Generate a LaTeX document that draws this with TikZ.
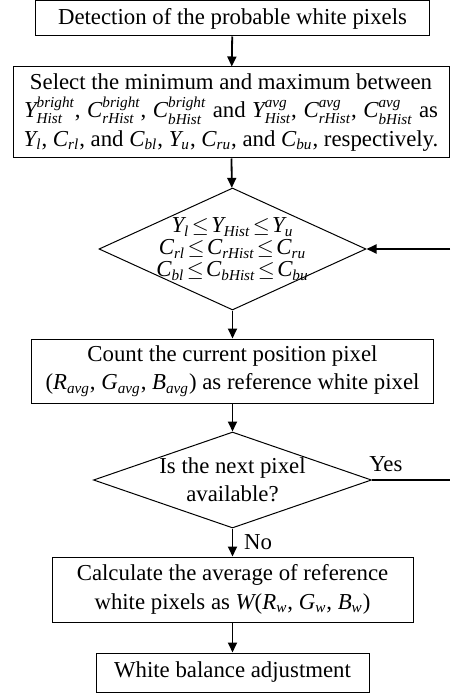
\documentclass[tikz,border=0pt]{standalone}
\usepackage{mathspec}
\setmainfont{Liberation Serif}
\setmathsfont(Digits,Latin)[Uppercase=Italic,Lowercase=Italic]{Liberation Serif}
\usetikzlibrary{shapes.geometric,arrows.meta}
\DeclareMathSizes{11.4}{11.4}{7.6}{6}
\def\boxfont{\fontsize{11.4pt}{14.2pt}\selectfont}
\def\condfont{\fontsize{11.4pt}{11pt}\selectfont\thickmuskip=2mu\relax}

\begin{document}
\begin{tikzpicture}[x=0.5pt,y=-0.5pt,line width=0.5pt,>={Triangle[length=5pt,width=4.5pt]}]
    \tikzstyle{every node}=[font=\boxfont]
    \tikzstyle{process}=[draw,rectangle,inner sep=1pt,align=center]
    \tikzstyle{decision}=[draw,diamond,inner sep=0pt]
    \tikzstyle{flow}=[->,line width=0.9pt]

    \useasboundingbox (0,0) rectangle (450,695);

    % Draw the process boxes and the decisions
    \node[process, minimum width=197pt, minimum height=17.5pt] (detect) at (232.5,18.5)
        {Detection of the probable white pixels};
    \node[process, minimum width=218pt, minimum height=45.5pt] (select) at (231,112.5)
        {Select the minimum and maximum between\\
         \makebox[207pt][s]{$Y^{bright}_{Hist}$, $C^{bright}_{rHist}$, $C^{bright}_{bHist}$ and $Y^{avg}_{Hist}$, $C^{avg}_{rHist}$, $C^{avg}_{bHist}$ as}\\
         $Y_l$, $C_{rl}$, and $C_{bl}$, $Y_u$, $C_{ru}$, and $C_{bu}$, respectively.};
    \node[decision, minimum width=133.5pt, minimum height=61pt,
          label={[align=center, font=\condfont]center:{$Y_l \le Y_{Hist} \le Y_u$\\ $C_{rl} \le C_{rHist} \le C_{ru}$\\ $C_{bl} \le C_{bHist} \le C_{bu}$}}]
        (cond) at (232.5,249) {};
    \node[process, minimum width=201pt, minimum height=32pt] (count) at (232.5,371)
        {Count the current position pixel\\ ($R_{avg}$, $G_{avg}$, $B_{avg}$) as reference white pixel};
    \node[decision, minimum width=139pt, minimum height=48pt,
          label={[align=center]center:{Is the next pixel\\ available?}}]
        (next) at (232.5,480) {};
    \node[process, minimum width=180.5pt, minimum height=32.5pt] (calc) at (232.5,589.5)
        {Calculate the average of reference\\ white pixels as $W$($R_w$, $G_w$, $B_w$)};
    \node[process, minimum width=136.5pt, minimum height=19.5pt] (balance) at (232.5,672.5)
        {White balance adjustment};

    % Connect the steps from top to bottom
    \foreach \source/\dest in {detect/select, select/cond, cond/count, count/next, calc/balance}
        \draw[flow] (\source) -- (\dest);
    \draw[flow] (next) -- node[right, xshift=2pt] {No} (calc);

    % Loop back from the right border
    \coordinate (yes end) at (450,480);
    \coordinate (loop in) at (450,249);
    \draw[line width=0.6pt] (next.east) -- node[pos=0, anchor=base west, xshift=-5pt, yshift=4.5pt] {Yes} (yes end);
    \draw[flow] (loop in) -- (cond.east);
\end{tikzpicture}
\end{document}
